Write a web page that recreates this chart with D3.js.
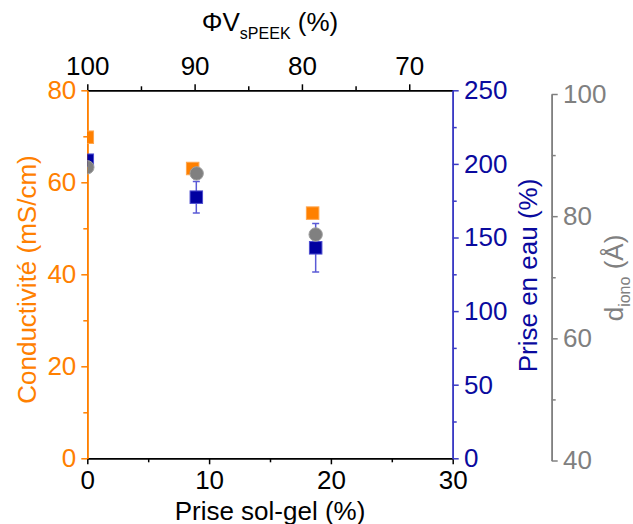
<!DOCTYPE html>
<html>
<head>
<meta charset="utf-8">
<script src="https://cdn.jsdelivr.net/npm/d3@7"></script>
<style>
  html, body { margin: 0; padding: 0; background: #fff; }
  svg { display: block; font-family: Arial, "Liberation Sans", sans-serif; }
</style>
</head>
<body>
<svg id="chart" width="633" height="524"></svg>
<script>
// ---- Data ----
const condX = [0, 8.65, 18.5];
const condY = [69.8, 63.0, 53.3];            // Conductivité (mS/cm)
const waterX = [0, 8.95, 18.75];
const waterY = [202.5, 177.4, 143.0];        // Prise en eau (%)
const waterErr = [0, 10.7, 16.5];
const dionoX = [0, 8.98, 18.75];
const dionoY = [88.0, 87.0, 77.0];           // d_iono (Å)

const xTicks = [0, 10, 20, 30];
const xMinor = [5, 15, 25];
const topTicks = [100, 90, 80, 70];
const topMinor = [95, 85, 75];
const condTicks = [0, 20, 40, 60, 80];
const condMinor = [10, 30, 50, 70];
const waterTicks = [0, 50, 100, 150, 200, 250];
const waterMinor = [25, 75, 125, 175, 225];
const dTicks = [40, 60, 80, 100];
const dMinor = [50, 70, 90];

// ---- Colours ----
const ORANGE = "#FF8000";
const NAVY = "#0000A0";
const NAVY_TXT = "#0a0a9e";
const BLUE_AX = "#3a3ac4";
const ERR = "#5a5ad6";
const GRAY = "#808080";

const svg = d3.select("#chart");
const L = 87.3, R = 452.7, T = 90.3, B = 458.3;
const FS = 26;

const x = d3.scaleLinear().domain([0, 30]).range([L, R]);
const xTop = d3.scaleLinear().domain([100, 65.95]).range([L, R]);
const yCond = d3.scaleLinear().domain([0, 80]).range([B, T]);
const yWater = d3.scaleLinear().domain([0, 250]).range([B, T]);
const gAxisX = 551.7;
const yD = d3.scaleLinear().domain([40, 100]).range([460.5, 94]);

function styleAxis(g, color) {
  g.selectAll("path.domain").attr("stroke", color).attr("stroke-width", 1.6);
  g.selectAll(".tick line").attr("stroke", color).attr("stroke-width", 1.5);
  g.selectAll(".tick text").attr("fill", color).attr("font-size", FS)
    .attr("font-family", 'Arial, "Liberation Sans", sans-serif');
}

// bottom
let g = svg.append("g").attr("transform", `translate(0,${B})`)
  .call(d3.axisBottom(x).tickValues(xMinor).tickSize(4).tickSizeOuter(0).tickFormat(""));
styleAxis(g, "#000");
g = svg.append("g").attr("transform", `translate(0,${B})`)
  .call(d3.axisBottom(x).tickValues(xTicks).tickSize(6).tickSizeOuter(0).tickPadding(6.5));
styleAxis(g, "#000");

// top
g = svg.append("g").attr("transform", `translate(0,${T})`)
  .call(d3.axisTop(xTop).tickValues(topMinor).tickSize(4).tickSizeOuter(0).tickFormat(""));
styleAxis(g, "#000");
g = svg.append("g").attr("transform", `translate(0,${T})`)
  .call(d3.axisTop(xTop).tickValues(topTicks).tickSize(6).tickSizeOuter(0).tickPadding(9.3));
styleAxis(g, "#000");

// left (conductivity)
g = svg.append("g").attr("transform", `translate(${L},0)`)
  .call(d3.axisLeft(yCond).tickValues(condMinor).tickSize(4).tickSizeOuter(0).tickFormat(""));
styleAxis(g, ORANGE);
g = svg.append("g").attr("transform", `translate(${L},0)`)
  .call(d3.axisLeft(yCond).tickValues(condTicks).tickSize(6).tickSizeOuter(0).tickPadding(5));
styleAxis(g, ORANGE);

// right (water uptake)
g = svg.append("g").attr("transform", `translate(${R},0)`)
  .call(d3.axisRight(yWater).tickValues(waterMinor).tickSize(4).tickSizeOuter(0).tickFormat(""));
styleAxis(g, BLUE_AX);
g = svg.append("g").attr("transform", `translate(${R},0)`)
  .call(d3.axisRight(yWater).tickValues(waterTicks).tickSize(6).tickSizeOuter(0).tickPadding(5.3));
styleAxis(g, BLUE_AX);
g.selectAll(".tick text").attr("fill", NAVY_TXT);

// offset right (d_iono)
g = svg.append("g").attr("transform", `translate(${gAxisX},0)`)
  .call(d3.axisRight(yD).tickValues(dMinor).tickSize(4).tickSizeOuter(0).tickFormat(""));
styleAxis(g, GRAY);
g = svg.append("g").attr("transform", `translate(${gAxisX},0)`)
  .call(d3.axisRight(yD).tickValues(dTicks).tickSize(6).tickSizeOuter(0).tickPadding(5.3));
styleAxis(g, GRAY);

// ---- Titles ----
const title = svg.append("text").attr("x", (L + R) / 2).attr("y", 31)
  .attr("text-anchor", "middle").attr("font-size", FS).attr("fill", "#000");
title.append("tspan").text("ΦV");
title.append("tspan").attr("font-size", 16).attr("dy", 7.5).text("sPEEK");
title.append("tspan").attr("dy", -7.5).text(" (%)");

svg.append("text").attr("x", (L + R) / 2).attr("y", 519.5)
  .attr("text-anchor", "middle").attr("font-size", FS).attr("fill", "#000")
  .text("Prise sol-gel (%)");

svg.append("text").attr("transform", "translate(35.5,279.5) rotate(-90)")
  .attr("text-anchor", "middle").attr("font-size", FS).attr("fill", ORANGE)
  .text("Conductivité (mS/cm)");

svg.append("text").attr("transform", "translate(537,275.5) rotate(-90)")
  .attr("text-anchor", "middle").attr("font-size", FS).attr("fill", NAVY_TXT)
  .text("Prise en eau (%)");

const dl = svg.append("text").attr("transform", "translate(623,278) rotate(-90)")
  .attr("text-anchor", "middle").attr("font-size", FS).attr("fill", GRAY);
dl.append("tspan").text("d");
dl.append("tspan").attr("font-size", 16).attr("dy", 7).text("iono");
dl.append("tspan").attr("dy", -7).text(" (Å)");

// ---- Data marks ----
svg.append("defs").append("clipPath").attr("id", "plotclip")
  .append("rect").attr("x", L).attr("y", T).attr("width", R - L).attr("height", B - T);
const plot = svg.append("g").attr("clip-path", "url(#plotclip)");
const S = 12.5;

// conductivity squares
plot.selectAll("rect.cond").data(condX.map((v, i) => [v, condY[i]])).join("rect")
  .attr("class", "cond")
  .attr("x", d => x(d[0]) - S / 2).attr("y", d => yCond(d[1]) - S / 2)
  .attr("width", S).attr("height", S)
  .attr("fill", ORANGE).attr("stroke", "#ffa64d").attr("stroke-width", 1);

// water uptake error bars + squares
const wd = waterX.map((v, i) => [v, waterY[i], waterErr[i]]);
const eb = plot.selectAll("g.err").data(wd.filter(d => d[2] > 0)).join("g").attr("class", "err");
eb.append("line")
  .attr("x1", d => x(d[0])).attr("x2", d => x(d[0]))
  .attr("y1", d => yWater(d[1] - d[2])).attr("y2", d => yWater(d[1] + d[2]))
  .attr("stroke", ERR).attr("stroke-width", 1.5);
eb.append("line")
  .attr("x1", d => x(d[0]) - 3.5).attr("x2", d => x(d[0]) + 3.5)
  .attr("y1", d => yWater(d[1] - d[2])).attr("y2", d => yWater(d[1] - d[2]))
  .attr("stroke", ERR).attr("stroke-width", 1.5);
eb.append("line")
  .attr("x1", d => x(d[0]) - 3.5).attr("x2", d => x(d[0]) + 3.5)
  .attr("y1", d => yWater(d[1] + d[2])).attr("y2", d => yWater(d[1] + d[2]))
  .attr("stroke", ERR).attr("stroke-width", 1.5);
plot.selectAll("rect.water").data(wd).join("rect")
  .attr("class", "water")
  .attr("x", d => x(d[0]) - S / 2).attr("y", d => yWater(d[1]) - S / 2)
  .attr("width", S).attr("height", S)
  .attr("fill", NAVY).attr("stroke", "#4d4dd0").attr("stroke-width", 1);

// d_iono circles
plot.selectAll("circle.d").data(dionoX.map((v, i) => [v, dionoY[i]])).join("circle")
  .attr("class", "d")
  .attr("cx", d => x(d[0])).attr("cy", d => yD(d[1])).attr("r", 6.7)
  .attr("fill", GRAY).attr("stroke", "#a0a0a0").attr("stroke-width", 1);
</script>
</body>
</html>
